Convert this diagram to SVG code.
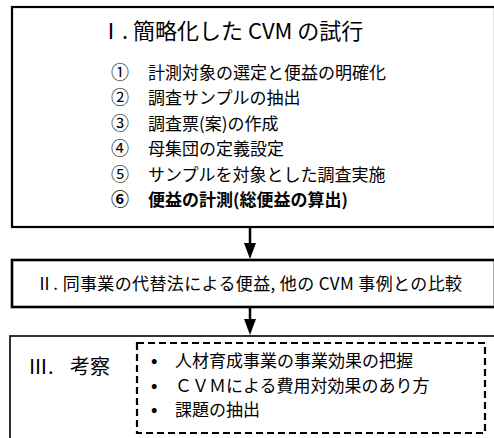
<svg xmlns="http://www.w3.org/2000/svg" width="494" height="438" viewBox="0 0 494 438">
<defs>
<style>
text{font-family:"Noto Sans CJK JP","Liberation Sans",sans-serif;fill:#000}
.t1{font-size:22px}
.t3{font-size:20px}
.it{font-size:17px}
.num{font-size:18px}
.bul{font-size:17px;font-weight:bold}
.b{font-weight:bold}
.box{fill:#fff;stroke:#000}
.sh{stroke:#000;stroke-width:2.5;fill:none}
.ah{fill:#000}
</style>
</defs>
<rect width="494" height="438" fill="#fff"/>
<g id="node1">
<rect class="box" x="12" y="7" width="483" height="220" stroke-width="2.2"/>
<text class="t1" x="100" y="39">Ⅰ. 簡略化した CVM の試行</text>
<text class="num" x="111" y="79">①</text><text class="it" x="148" y="79">計測対象の選定と便益の明確化</text>
<text class="num" x="111" y="104">②</text><text class="it" x="148" y="104">調査サンプルの抽出</text>
<text class="num" x="111" y="130">③</text><text class="it" x="148" y="130">調査票(案)の作成</text>
<text class="num" x="111" y="155">④</text><text class="it" x="148" y="155">母集団の定義設定</text>
<text class="num" x="111" y="181">⑤</text><text class="it" x="148" y="181">サンプルを対象とした調査実施</text>
<text class="num b" x="111" y="206">⑥</text><text class="it b" x="148" y="206">便益の計測(総便益の算出)</text>
</g>
<g id="node2">
<rect class="box" x="12" y="260" width="483" height="47" stroke-width="2.6"/>
<text class="it" x="36" y="290" textLength="426" lengthAdjust="spacing">Ⅱ. 同事業の代替法による便益, 他の CVM 事例との比較</text>
</g>
<g id="node3">
<rect class="box" x="10" y="336" width="485" height="110" stroke-width="1.6"/>
<text class="t3" x="28" y="374">Ⅲ.</text><text class="t3" x="70" y="374">考察</text>
<rect x="137" y="343" width="348" height="90" fill="none" stroke="#000" stroke-width="2.2" stroke-dasharray="7,4"/>
<text class="bul" x="151" y="367">•</text><text class="it" x="175" y="367">人材育成事業の事業効果の把握</text>
<text class="bul" x="151" y="392">•</text><text class="it" x="175" y="392">ＣＶＭによる費用対効果のあり方</text>
<text class="bul" x="151" y="416">•</text><text class="it" x="175" y="416">課題の抽出</text>
</g>
<g id="connectors">
<line class="sh" x1="250" y1="228" x2="250" y2="245"/>
<path class="ah" d="M244,243 L256,243 L250,259 Z"/>
<line class="sh" x1="250" y1="308" x2="250" y2="321"/>
<path class="ah" d="M244,319 L256,319 L250,335 Z"/>
</g>
</svg>
